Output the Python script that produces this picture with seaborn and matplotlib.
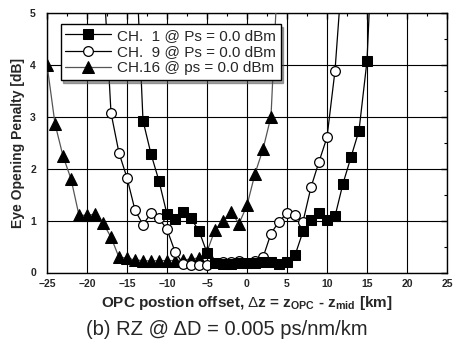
import numpy as np
import pandas as pd
import matplotlib
matplotlib.use("Agg")
import matplotlib.pyplot as plt
import seaborn as sns
from matplotlib.ticker import MultipleLocator

# ---- data ----
ch1_x = [-14, -13, -12, -11, -10, -9, -8, -7, -6, -5, -4, -3, -2, -1, 0, 1, 2, 3, 4, 5, 6, 7, 8, 9, 10, 11, 12, 13, 14, 15, 16]
ch1_y = [6.5, 2.92, 2.28, 1.76, 1.12, 1.03, 1.17, 1.04, 0.80, 0.38, 0.18, 0.17, 0.17, 0.18, 0.18, 0.19, 0.20, 0.20, 0.16, 0.20, 0.33, 0.79, 1.01, 1.15, 1.01, 1.08, 1.71, 2.22, 2.73, 4.07, 7.5]

ch9_x = [-18, -17, -16, -15, -14, -13, -12, -11, -10, -9, -8, -7, -6, -5, -4, -3, -2, -1, 0, 1, 2, 3, 4, 5, 6, 7, 8, 9, 10, 11, 12]
ch9_y = [5.9, 3.07, 2.30, 1.82, 1.20, 0.92, 1.14, 1.04, 0.83, 0.40, 0.17, 0.14, 0.14, 0.15, 0.18, 0.20, 0.21, 0.22, 0.19, 0.23, 0.29, 0.75, 0.98, 1.14, 1.10, 0.98, 1.64, 2.13, 2.60, 3.88, 6.0]

ch16_x = [-25, -24, -23, -22, -21, -20, -19, -18, -17, -16, -15, -14, -13, -12, -11, -10, -9, -8, -7, -6, -5, -4, -3, -2, -1, 0, 1, 2, 3, 4]
ch16_y = [4.0, 2.86, 2.24, 1.80, 1.10, 1.10, 1.12, 0.95, 0.68, 0.29, 0.28, 0.24, 0.23, 0.22, 0.23, 0.23, 0.23, 0.24, 0.26, 0.28, 0.40, 0.82, 0.99, 1.16, 0.94, 1.29, 1.90, 2.37, 3.00, 6.3]

labels = ["CH.  1 @ Ps = 0.0 dBm", "CH.  9 @ Ps = 0.0 dBm", "CH.16 @ ps = 0.0 dBm"]

x_ticks = [-25, -20, -15, -10, -5, 0, 5, 10, 15, 20, 25]
y_ticks = [0, 1, 2, 3, 4, 5]

# ---- style ----
sns.set_style("white")
plt.rcParams['font.family'] = ['Liberation Sans', 'DejaVu Sans']
plt.rcParams['mathtext.fontset'] = 'custom'
plt.rcParams['mathtext.rm'] = 'Liberation Sans'
plt.rcParams['mathtext.bf'] = 'Liberation Sans:bold'

fig = plt.figure(figsize=(4.54, 3.40), dpi=100)
ax = fig.add_axes([47/454, 1-272.5/340, 400/454, 260/340])

df1 = pd.DataFrame({"x": ch1_x, "y": ch1_y})
df9 = pd.DataFrame({"x": ch9_x, "y": ch9_y})
df16 = pd.DataFrame({"x": ch16_x, "y": ch16_y})

sns.lineplot(data=df16, x="x", y="y", ax=ax, color="#555555", lw=0.9,
             marker="^", markersize=8, markerfacecolor="black", markeredgecolor="black",
             label=labels[2], zorder=3)
sns.lineplot(data=df9, x="x", y="y", ax=ax, color="black", lw=0.9,
             marker="o", markersize=7, markerfacecolor="white", markeredgecolor="black",
             markeredgewidth=0.9, label=labels[1], zorder=4)
sns.lineplot(data=df1, x="x", y="y", ax=ax, color="black", lw=0.9,
             marker="s", markersize=6.5, markerfacecolor="black", markeredgecolor="black",
             label=labels[0], zorder=5)

ax.set_xlim(-25, 25)
ax.set_ylim(0, 5)
ax.set_xticks(x_ticks)
ax.set_yticks(y_ticks)
ax.xaxis.set_minor_locator(MultipleLocator(2.5))
ax.yaxis.set_minor_locator(MultipleLocator(0.5))
ax.tick_params(which='both', direction='in', top=True, right=True, color='black')
ax.tick_params(which='major', length=4, width=1)
ax.tick_params(which='minor', length=2.5, width=0.8)
for lab in ax.get_xticklabels() + ax.get_yticklabels():
    lab.set_fontweight('bold')
    lab.set_fontsize(7.5)
ax.tick_params(axis='x', pad=5)
ax.tick_params(axis='y', pad=8)
ax.grid(True, which='major', color='black', lw=0.8)
for s in ax.spines.values():
    s.set_color('black')
    s.set_linewidth(1.0)

ax.set_xlabel(r"OPC postion offset, $\Delta$z = z$_{\mathbf{OPC}}$ - z$_{\mathbf{mid}}$ [km]",
              fontsize=11, fontweight='bold', labelpad=3)
ax.set_ylabel("Eye Opening Penalty [dB]", fontsize=10, fontweight='bold', labelpad=4)

handles, labs = ax.get_legend_handles_labels()
order = [labs.index(l) for l in labels]
leg = ax.legend([handles[i] for i in order], [labs[i] for i in order],
                loc='upper left', bbox_to_anchor=(0.015, 0.985), frameon=True,
                fancybox=False, shadow=True, fontsize=11, handlelength=3.0,
                handletextpad=0.4, borderpad=0.3, labelspacing=0.15, framealpha=1)
leg.get_frame().set_edgecolor('black')
leg.get_frame().set_linewidth(1.0)
leg.set_zorder(10)

fig.text(0.5, 1-335/340, "(b) RZ @ \u0394D = 0.005 ps/nm/km", ha='center', va='baseline', fontsize=14.5)

fig.savefig("out.png", dpi=100)
